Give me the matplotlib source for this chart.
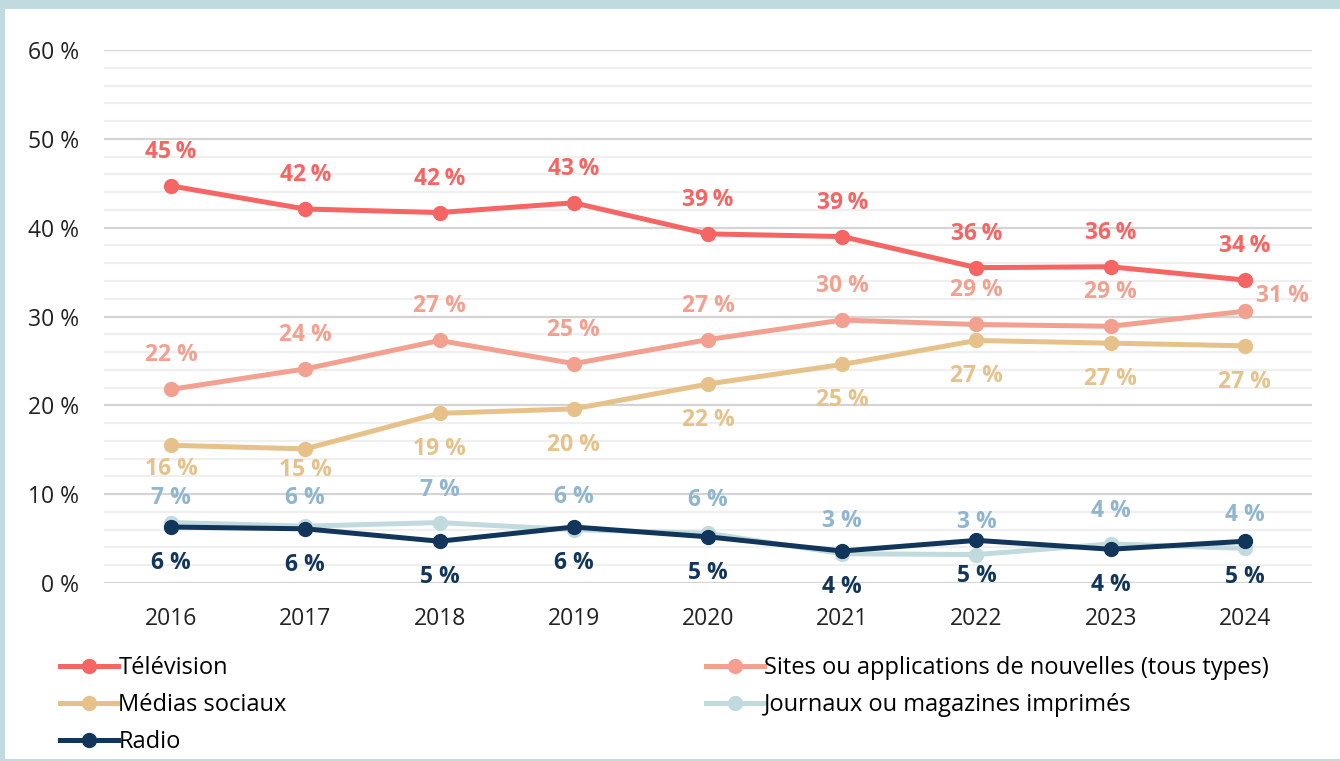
import matplotlib
matplotlib.use("Agg")
import matplotlib.pyplot as plt
from matplotlib.lines import Line2D
from matplotlib.patches import Rectangle

plt.rcParams['font.family'] = ['Open Sans', 'DejaVu Sans']

years = ['2016', '2017', '2018', '2019', '2020', '2021', '2022', '2023', '2024']
television = [44.7, 42.1, 41.7, 42.8, 39.3, 39.0, 35.5, 35.6, 34.1]
sites = [21.8, 24.1, 27.3, 24.7, 27.4, 29.6, 29.1, 28.9, 30.6]
social = [15.5, 15.1, 19.1, 19.6, 22.4, 24.6, 27.3, 27.0, 26.7]
printed = [6.8, 6.4, 6.8, 6.0, 5.6, 3.3, 3.2, 4.4, 3.9]
radio = [6.3, 6.1, 4.7, 6.3, 5.2, 3.6, 4.8, 3.8, 4.7]

names = ['Télévision', 'Sites ou applications de nouvelles (tous types)',
         'Médias sociaux', 'Journaux ou magazines imprimés', 'Radio']
line_colors = ['#f46563', '#f2a090', '#e6c28a', '#c0dade', '#12365b']
label_colors = ['#f46563', '#f2a090', '#e6c28a', '#8fb5cf', '#12365b']
series = [television, sites, social, printed, radio]

W, H = 1340, 761
fig = plt.figure(figsize=(W / 100, H / 100), dpi=100)
fig.patch.set_facecolor('white')

# light blue frame (top, left, bottom)
frame_c = '#c0dadf'
fig.add_artist(Rectangle((0, 1 - 9 / H), 1, 9 / H, transform=fig.transFigure,
                         facecolor=frame_c, edgecolor='none', zorder=0))
fig.add_artist(Rectangle((0, 0), 5 / W, 1, transform=fig.transFigure,
                         facecolor=frame_c, edgecolor='none', zorder=0))
fig.add_artist(Rectangle((0, 0), 1, 2.5 / H, transform=fig.transFigure,
                         facecolor=frame_c, edgecolor='none', zorder=0))

ax = fig.add_axes([104 / W, 1 - 583 / H, (1312 - 104) / W, (583 - 50) / H])
x = list(range(len(years)))
ax.set_xlim(-0.5, len(years) - 0.5)
ax.set_ylim(0, 60)

for v in range(0, 61, 2):
    major = v % 10 == 0
    ax.axhline(v, color='#d4d4d4' if major else '#efefef', lw=1.6, zorder=0)

for s in ax.spines.values():
    s.set_visible(False)
ax.set_yticks(range(0, 61, 10))
ax.set_yticklabels([f'{v} %' for v in range(0, 61, 10)], fontsize=16.5, color='#222222')
ax.set_xticks(x)
ax.set_xticklabels(years, fontsize=16.5, color='#222222')
ax.tick_params(axis='both', length=0)
ax.tick_params(axis='y', pad=18)
ax.tick_params(axis='x', pad=17)

# default label offsets (pixels): positive = above
default_dy = [34, 34, -36, 33, -36]
overrides = {(1, 8): (38, 15), (2, 0): (0, -24), (2, 1): (0, -21),
             (3, 0): (0, 25), (3, 1): (0, 28)}
spaces = ['\u2009', ' ', ' ', ' ', ' ']

for i, (vals, nm) in enumerate(zip(series, names)):
    ax.plot(x, vals, color=line_colors[i], lw=3.6, marker='o', markersize=10,
            solid_capstyle='round', zorder=3 + i)
    for j, v in enumerate(vals):
        dx, dy = overrides.get((i, j), (0, default_dy[i]))
        ax.annotate(f'{round(v)}{spaces[i]}%', (j, v), xytext=(dx, dy),
                    textcoords='offset pixels', ha='center', va='center',
                    fontsize=16.5, fontweight='bold', color=label_colors[i], zorder=10)

def handle(c):
    return Line2D([], [], color=c, lw=3.6, marker='o', markersize=10)

leg_kw = dict(frameon=False, fontsize=17, handlelength=2.45, handletextpad=0.02,
              labelspacing=0.55, borderpad=0, borderaxespad=0, loc='upper left')
fig.legend([handle(line_colors[k]) for k in (0, 2, 4)], [names[k] for k in (0, 2, 4)],
           bbox_to_anchor=(60 / W, 1 - 656 / H), **leg_kw)
fig.legend([handle(line_colors[k]) for k in (1, 3)], [names[k] for k in (1, 3)],
           bbox_to_anchor=(706 / W, 1 - 656 / H), **leg_kw)

fig.savefig('out.png', dpi=100)
